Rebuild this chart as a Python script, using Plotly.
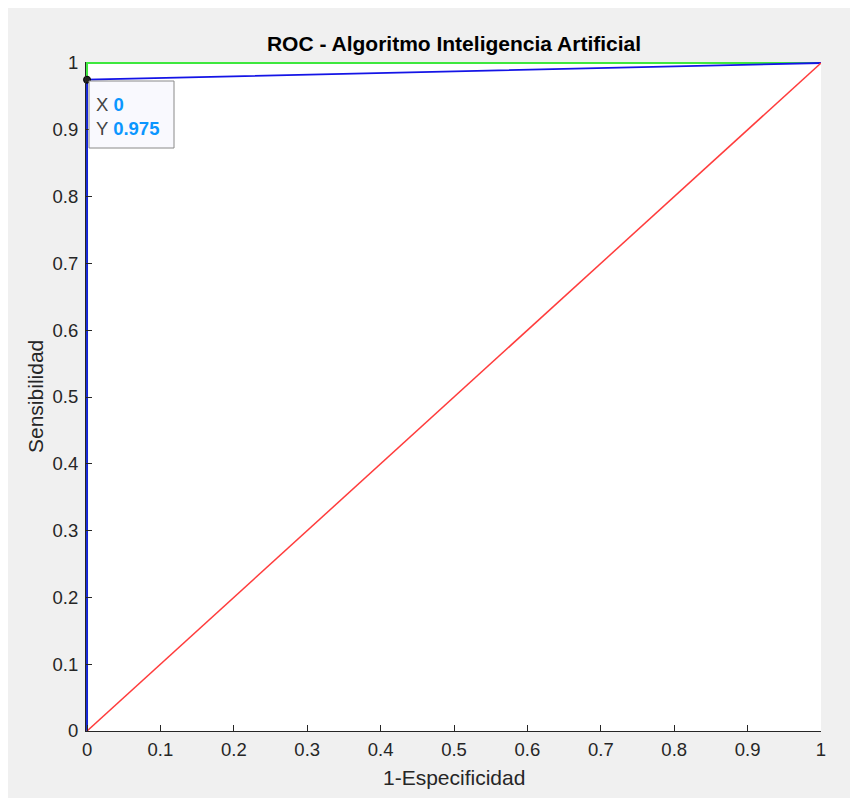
import plotly.graph_objects as go

# ROC curves
fpr_ideal = [0, 0, 1]
tpr_ideal = [0, 1, 1]
fpr_model = [0, 0, 1]
tpr_model = [0, 0.975, 1]
fpr_random = [0, 1]
tpr_random = [0, 1]
tip_x = 0
tip_y = 0.975
tick_vals = [0, 0.1, 0.2, 0.3, 0.4, 0.5, 0.6, 0.7, 0.8, 0.9, 1]
tick_text = ["0", "0.1", "0.2", "0.3", "0.4", "0.5", "0.6", "0.7", "0.8", "0.9", "1"]

OFF = 8  # page body margin
W, H = 858 - OFF, 798 - OFF
L, R, T, B = 86 - OFF, 37, 62 - OFF, 67
xr = [-0.0014, 1.0]
yr = [0.0, 1.0015]
pw = W - L - R
ph = H - T - B

def px2x(p):
    p -= OFF
    return xr[0] + (p - L) / pw * (xr[1] - xr[0])

def py2y(p):
    p -= OFF
    return yr[0] + ((H - B) - p) / ph * (yr[1] - yr[0])

def pxp(p):
    return (p - OFF - L) / pw

def pyp(p):
    return ((H - B) - (p - OFF)) / ph

FONT = "Liberation Sans, Arial, Helvetica, sans-serif"
TXT = "#262626"

fig = go.Figure()
fig.add_trace(go.Scatter(x=fpr_ideal, y=tpr_ideal, mode="lines",
                         line=dict(color="#3ee83e", width=2), hoverinfo="skip"))
fig.add_trace(go.Scatter(x=fpr_model, y=tpr_model, mode="lines",
                         line=dict(color="#1414e6", width=1.8), hoverinfo="skip"))
fig.add_trace(go.Scatter(x=fpr_random, y=tpr_random, mode="lines",
                         line=dict(color="#ff3c3c", width=1.5), hoverinfo="skip"))
fig.add_trace(go.Scatter(x=[tip_x], y=[tip_y], mode="markers", cliponaxis=False,
                         marker=dict(color="#222222", size=7,
                                     line=dict(color="#000000", width=1)),
                         hoverinfo="skip"))

shapes = [
    dict(type="rect", xref="paper", yref="paper", x0=0, x1=1, y0=0, y1=1,
         fillcolor="white", line=dict(width=0), layer="below"),
    dict(type="rect", xref="x", yref="y",
         x0=px2x(89), x1=px2x(174), y0=py2y(148), y1=py2y(81),
         fillcolor="#f9f9fe", line=dict(color="#8a8a8a", width=1)),
]

annotations = [
    dict(xref="x", yref="y", x=px2x(94), y=py2y(104), xanchor="left", yanchor="middle",
         showarrow=False, font=dict(family=FONT, size=18.5, color="#444444"),
         text="X <b><span style='color:#0b96ff'>%g</span></b>" % tip_x),
    dict(xref="x", yref="y", x=px2x(94), y=py2y(128), xanchor="left", yanchor="middle",
         showarrow=False, font=dict(family=FONT, size=18.5, color="#444444"),
         text="Y <b><span style='color:#0b96ff'>%g</span></b>" % tip_y),
    dict(xref="paper", yref="paper", x=pxp(454), y=pyp(777),
         xanchor="center", yanchor="middle", showarrow=False,
         font=dict(family=FONT, size=21, color=TXT), text="1-Especificidad"),
    dict(xref="paper", yref="paper", x=pxp(35), y=pyp(397),
         xanchor="center", yanchor="middle", showarrow=False, textangle=-90,
         font=dict(family=FONT, size=21, color=TXT), text="Sensibilidad"),
]

axis_common = dict(
    tickvals=tick_vals, ticktext=tick_text, ticks="inside", ticklen=6,
    tickcolor=TXT, tickwidth=1, showline=True, linecolor=TXT, linewidth=1,
    mirror=False, showgrid=False, zeroline=False,
    tickfont=dict(family=FONT, size=18.5, color=TXT),
)

fig.update_layout(
    width=W, height=H,
    margin=dict(l=L, r=R, t=T, b=B, pad=0),
    paper_bgcolor="#f0f0f0", plot_bgcolor="rgba(0,0,0,0)",
    showlegend=False,
    title=dict(text="<b>ROC - Algoritmo Inteligencia Artificial</b>",
               x=(454 - OFF) / W, xanchor="center", xref="container",
               y=1 - (44 - OFF) / H, yanchor="middle", yref="container",
               font=dict(family=FONT, size=21, color="#000000")),
    xaxis=dict(range=xr, ticklabelstandoff=2, **axis_common),
    yaxis=dict(range=yr, ticklabelstandoff=3, **axis_common),
    shapes=shapes, annotations=annotations,
)

fig.write_html("out.html")
